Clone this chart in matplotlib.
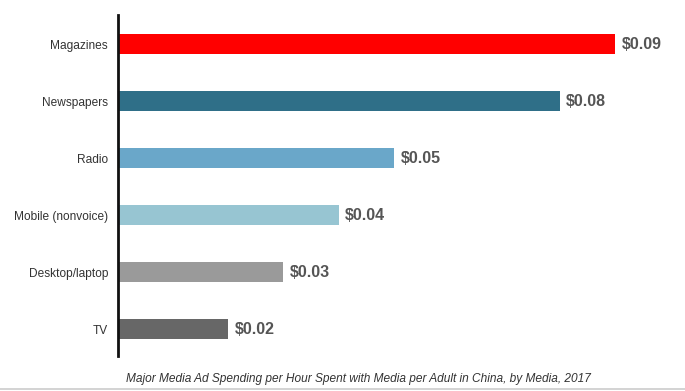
import matplotlib
matplotlib.use("Agg")
import matplotlib.pyplot as plt
from matplotlib.lines import Line2D

plt.rcParams['font.family'] = ['Liberation Sans', 'DejaVu Sans']

media = ["TV", "Desktop/laptop", "Mobile (nonvoice)", "Radio", "Newspapers", "Magazines"]
spend = [0.02, 0.03, 0.04, 0.05, 0.08, 0.09]
colors = ["#676767", "#9a9a9a", "#97c5d2", "#6aa7c9", "#2f6f88", "#ff0000"]
caption = "Major Media Ad Spending per Hour Spent with Media per Adult in China, by Media, 2017"

fig = plt.figure(figsize=(6.85, 3.91), dpi=100)
ax = fig.add_axes([0.172, 0.0895, 0.806, 0.872])

ypos = list(range(len(media)))
ax.barh(ypos, spend, height=0.36, color=colors)
for y, v in zip(ypos, spend):
    ax.text(v + 0.0012, y, "$%.2f" % v, va="center", ha="left",
            fontsize=11.5, fontweight="bold", color="#555555")

ax.set_yticks(ypos)
ax.set_yticklabels(media, fontsize=8.6, color="#333333")
ax.tick_params(axis="y", length=0, pad=7)
ax.set_xticks([])
ax.set_xlim(0, 0.1)
ax.set_ylim(-0.47, 5.51)
for s in ["top", "right", "bottom"]:
    ax.spines[s].set_visible(False)
ax.spines["left"].set_linewidth(2)
ax.spines["left"].set_color("#111111")

fig.text(0.523, 0.031, caption, ha="center", va="center", fontsize=8.6,
         style="italic", color="#333333")
fig.add_artist(Line2D([0, 1], [0.006, 0.006], color="#cccccc", lw=1.2,
                      transform=fig.transFigure))

fig.savefig("out.png", dpi=100)
